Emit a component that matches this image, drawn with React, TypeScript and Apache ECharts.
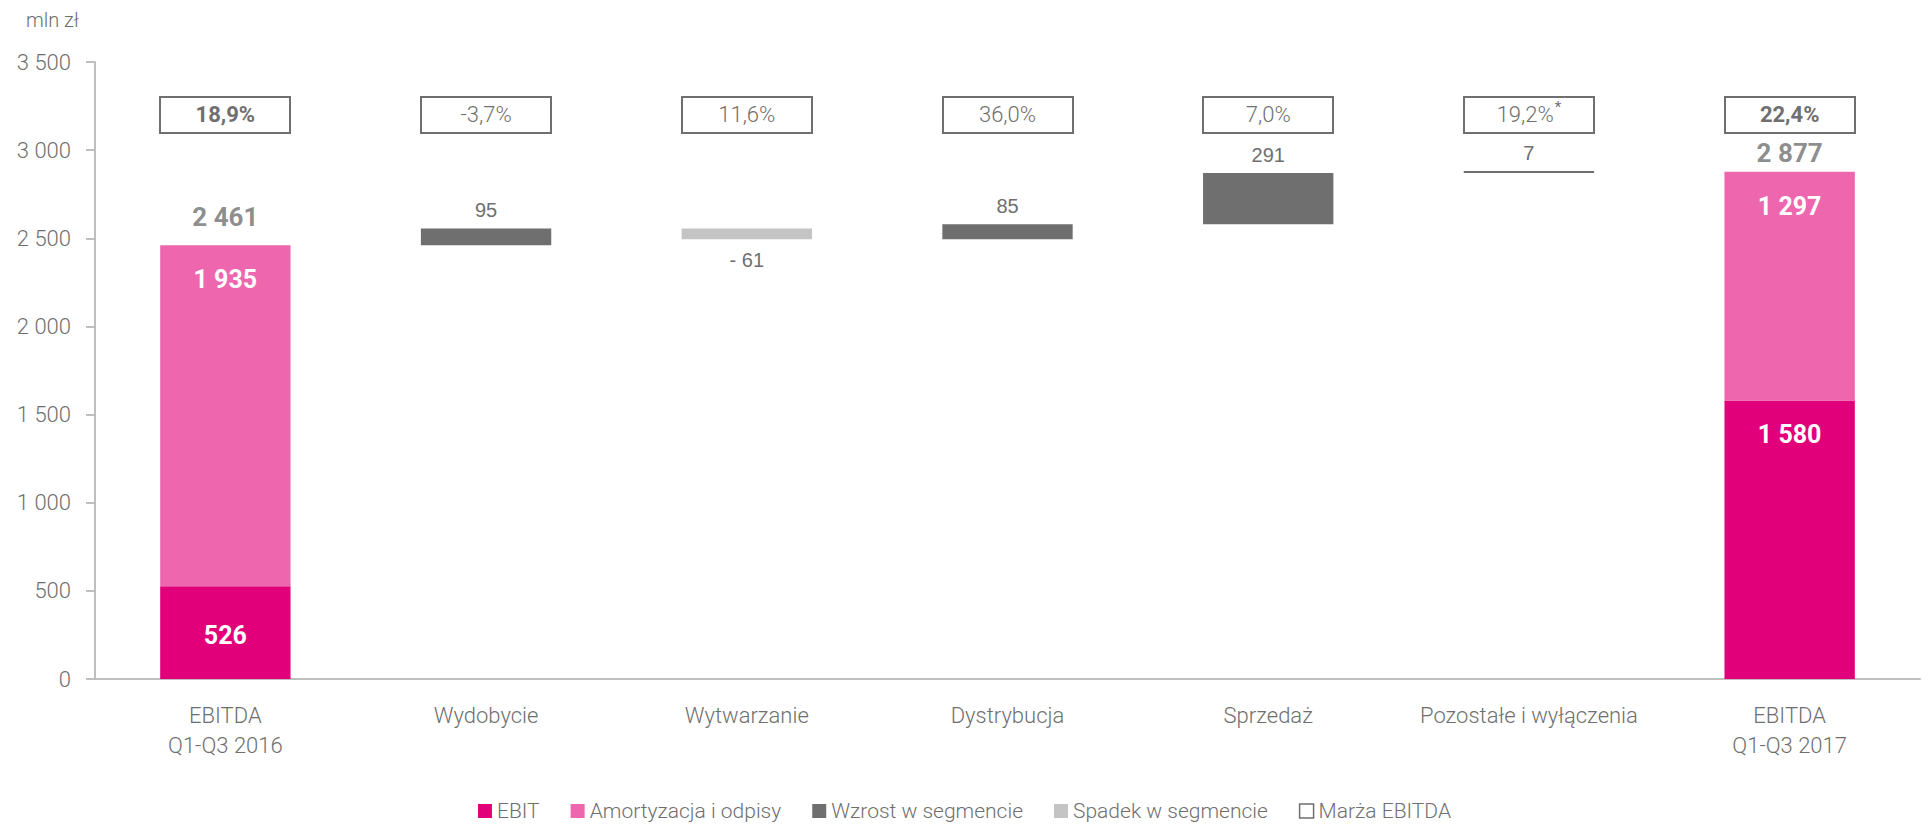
import React, { useEffect, useRef } from "react";
import * as echarts from "echarts";

const categories = [
  "EBITDA\nQ1-Q3 2016",
  "Wydobycie",
  "Wytwarzanie",
  "Dystrybucja",
  "Sprzedaż",
  "Pozostałe i wyłączenia",
  "EBITDA\nQ1-Q3 2017",
];
const ebit: (number | null)[] = [526, null, null, null, null, null, 1580];
const amortyzacja: (number | null)[] = [1935, null, null, null, null, null, 1297];
const segmentChange: (number | null)[] = [null, 95, -61, 85, 291, 7, null];
const ebitdaTotal: (number | null)[] = [2461, null, null, null, null, null, 2877];
const marza = ["18,9%", "-3,7%", "11,6%", "36,0%", "7,0%", "19,2%", "22,4%"];
const marzaNote = ["", "", "", "", "", "*", ""];
const marzaBold = [true, false, false, false, false, false, true];
const yMin = 0;
const yMax = 3500;
const yInterval = 500;

const MARGIN_BOX_LEVEL = 3200;
const GRAY = "#6f6f6f";
const FONT = "Roboto";

const fmt = (v: number) =>
  String(Math.round(v)).replace(/\B(?=(\d{3})+(?!\d))/g, " ");

export default function App() {
  const ref = useRef<HTMLDivElement>(null);

  useEffect(() => {
    document.body.style.margin = "0";
    if (!ref.current) return;
    const chart = echarts.init(ref.current, null, { renderer: "svg" });

    const base: (number | null)[] = [];
    const inc: (number | null)[] = [];
    const dec: (number | null)[] = [];
    let running = (ebit[0] || 0) + (amortyzacja[0] || 0);
    categories.forEach((_, i) => {
      const c = segmentChange[i];
      if (c === null) {
        base.push(null);
        inc.push(null);
        dec.push(null);
      } else if (c >= 0) {
        base.push(running);
        inc.push(c);
        dec.push(null);
        running += c;
      } else {
        running += c;
        base.push(running);
        inc.push(null);
        dec.push(-c);
      }
    });

    const toData = (arr: (number | null)[]) => arr.map((v) => (v === null ? "-" : v));

    const insideLabel = {
      show: true,
      color: "#ffffff",
      fontSize: 25,
      fontWeight: "bold" as const,
      fontFamily: FONT,
      formatter: (p: any) => fmt(p.value),
    };

    const option: any = {
      animation: false,
      textStyle: { fontFamily: FONT, color: GRAY },
      title: {
        text: "mln zł",
        left: 21,
        top: 5,
        textStyle: { fontSize: 20, fontWeight: 300, color: GRAY, fontFamily: FONT },
      },
      grid: { left: 95, right: 9, top: 62, bottom: 146, containLabel: false },
      legend: {
        top: 800,
        left: "center",
        padding: 0,
        icon: "rect",
        itemWidth: 14,
        itemHeight: 14,
        itemGap: 31,
        textStyle: { fontSize: 21, fontWeight: 300, lineHeight: 22, color: GRAY, fontFamily: FONT },
        data: [
          { name: "EBIT" },
          { name: "Amortyzacja i odpisy" },
          { name: "Wzrost w segmencie" },
          { name: "Spadek w segmencie" },
          {
            name: "Marża EBITDA",
            icon: "rect",
            itemStyle: { color: "#ffffff", borderColor: GRAY, borderWidth: 1.5 },
          },
        ],
      },
      xAxis: {
        type: "category",
        data: categories,
        axisLine: { show: true, lineStyle: { color: "#bfbfbf", width: 2 } },
        axisTick: { show: false },
        axisLabel: {
          color: GRAY,
          fontSize: 22,
          fontWeight: 300,
          lineHeight: 30,
          margin: 21,
          interval: 0,
          fontFamily: FONT,
        },
      },
      yAxis: {
        type: "value",
        min: yMin,
        max: yMax,
        interval: yInterval,
        splitLine: { show: false },
        axisLine: { show: true, lineStyle: { color: "#bfbfbf", width: 2 } },
        axisTick: { show: true, length: 9, lineStyle: { color: "#bfbfbf", width: 2 } },
        axisLabel: {
          color: GRAY,
          fontSize: 22,
          fontWeight: 300,
          margin: 24,
          fontFamily: FONT,
          formatter: (v: number) => fmt(v),
        },
      },
      series: [
        {
          name: "base",
          type: "bar",
          stack: "w",
          barWidth: "50%",
          silent: true,
          itemStyle: { color: "transparent" },
          data: toData(base),
        },
        {
          name: "EBIT",
          type: "bar",
          stack: "w",
          barWidth: "50%",
          itemStyle: { color: "#e2007a" },
          data: ebit.map((v, i) =>
            v === null
              ? "-"
              : {
                  value: v,
                  label:
                    i === 0
                      ? { ...insideLabel, position: "inside", offset: [0, 3] }
                      : { ...insideLabel, position: "insideTop", distance: 22 },
                }
          ),
        },
        {
          name: "Amortyzacja i odpisy",
          type: "bar",
          stack: "w",
          barWidth: "50%",
          itemStyle: { color: "#ee66ad" },
          label: { ...insideLabel, position: "insideTop", distance: 22 },
          data: toData(amortyzacja),
        },
        {
          name: "Wzrost w segmencie",
          type: "bar",
          stack: "w",
          barWidth: "50%",
          barMinHeight: 2,
          itemStyle: { color: GRAY },
          label: {
            show: true,
            position: "top",
            distance: 8,
            color: GRAY,
            fontSize: 20,
            fontFamily: "Liberation Sans",
            formatter: (p: any) => fmt(p.value),
          },
          data: toData(inc),
        },
        {
          name: "Spadek w segmencie",
          type: "bar",
          stack: "w",
          barWidth: "50%",
          itemStyle: { color: "#c4c4c4" },
          label: {
            show: true,
            position: "bottom",
            distance: 11,
            color: GRAY,
            fontSize: 20,
            fontFamily: "Liberation Sans",
            formatter: (p: any) => "- " + fmt(p.value),
          },
          data: toData(dec),
        },
        {
          name: "totals",
          type: "scatter",
          symbolSize: 0,
          silent: true,
          z: 5,
          label: {
            show: true,
            position: "top",
            color: GRAY,
            fontSize: 26,
            fontWeight: "bold",
            fontFamily: FONT,
            formatter: (p: any) => fmt(p.value),
          },
          data: ebitdaTotal.map((v, i) =>
            v === null ? "-" : { value: v, label: { distance: i === 0 ? 15 : 6 } }
          ),
        },
        {
          name: "Marża EBITDA",
          type: "custom",
          silent: true,
          z: 6,
          encode: { x: 0, y: 1 },
          itemStyle: { color: "#ffffff", borderColor: GRAY, borderWidth: 2 },
          renderItem: (params: any, api: any) => {
            const i = params.dataIndex;
            const pt = api.coord([api.value(0), api.value(1)]);
            const bw = Math.round(api.size([1, 0])[0] * 0.5);
            const h = 36;
            const x = Math.round(pt[0] - bw / 2);
            const y = Math.round(pt[1] - h / 2);
            const key = marzaBold[i] ? "b" : "n";
            const txt = `{${key}|${marza[i]}}` + (marzaNote[i] ? `{sup|${marzaNote[i]}}` : "");
            return {
              type: "group",
              children: [
                {
                  type: "rect",
                  shape: { x: x, y: y, width: bw, height: h },
                  style: { fill: "#ffffff", stroke: GRAY, lineWidth: 2 },
                },
                {
                  type: "text",
                  x: pt[0],
                  y: pt[1],
                  style: {
                    text: txt,
                    align: "center",
                    verticalAlign: "middle",
                    rich: {
                      n: { fontSize: 22, fontWeight: 300, fill: GRAY, fontFamily: FONT, lineHeight: 30 },
                      b: { fontSize: 22, fontWeight: "bold", fill: GRAY, fontFamily: FONT, lineHeight: 30 },
                      sup: { fontSize: 15, fill: GRAY, fontFamily: FONT, lineHeight: 30, verticalAlign: "top", padding: [0, 0, 12, 1] },
                    },
                  },
                },
              ],
            };
          },
          data: categories.map((_, i) => [i, MARGIN_BOX_LEVEL]),
        },
      ],
    };

    chart.setOption(option);
    return () => chart.dispose();
  }, []);

  return <div ref={ref} style={{ width: 1929, height: 825 }} />;
}
